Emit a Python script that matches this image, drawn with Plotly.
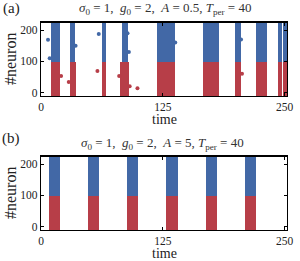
import plotly.graph_objects as go

# ---------------- data ----------------
# x-axis ticks
time_ticks = [0, 125, 250]
neuron_ticks = [0, 100, 200]

# population boundaries (neuron index)
exc_lo, boundary, inh_hi = -20, 97, 230

# Panel (a): A = 0.5  -- burst intervals (time)
a_blue_start = [10.5, 30.0, 63.0, 83.5, 119.5, 128.6, 166.0, 198.8, 221.0, 243.0, 247.9, 250.6]
a_blue_end   = [19.2, 34.8, 67.2, 89.5, 127.9, 137.2, 182.5, 204.8, 232.0, 247.3, 250.0, 253.0]
a_red_start  = [10.0, 29.5, 63.0, 81.0, 119.5, 128.6, 166.0, 198.8, 221.0, 243.0, 247.9, 250.6]
a_red_end    = [20.0, 35.7, 67.2, 90.0, 127.9, 137.2, 182.5, 205.5, 232.0, 247.3, 250.0, 253.0]

# isolated spikes in panel (a)
a_blue_iso_t = [7.2, 8.9, 59.3, 35.5, 90.2, 88.8, 205.3, 137.8]
a_blue_iso_n = [169, 110, 187, 150, 130, 190, 170, 160]
a_red_iso_t  = [28.5, 57.9, 80.2, 20.6, 91.0, 206.3, 99.0]
a_red_iso_n  = [34, 69, 53, 53, 20, 60, 14]

# Panel (b): A = 5 -- burst intervals (time)
b_start = [8.0, 48.3, 88.5, 128.8, 169.0, 209.3]
b_end   = [19.5, 59.8, 100.0, 140.3, 180.5, 220.8]

BLUE = "#4268A6"
RED = "#B73E48"
FONT = "Liberation Serif"


def bars(starts, ends, lo, hi, color, xa, ya):
    return go.Bar(
        x=[(s + e) / 2 for s, e in zip(starts, ends)],
        width=[e - s for s, e in zip(starts, ends)],
        y=[hi - lo] * len(starts),
        base=[lo] * len(starts),
        marker=dict(color=color, line=dict(width=0)),
        cliponaxis=False,
        xaxis=xa, yaxis=ya, showlegend=False, hoverinfo="skip",
    )


fig = go.Figure()
fig.add_trace(bars(a_red_start, a_red_end, exc_lo, boundary, RED, "x", "y"))
fig.add_trace(bars(a_blue_start, a_blue_end, boundary, inh_hi, BLUE, "x", "y"))
fig.add_trace(go.Scatter(x=a_blue_iso_t, y=a_blue_iso_n, mode="markers",
                         marker=dict(color=BLUE, size=4), xaxis="x", yaxis="y",
                         showlegend=False, cliponaxis=False, hoverinfo="skip"))
fig.add_trace(go.Scatter(x=a_red_iso_t, y=a_red_iso_n, mode="markers",
                         marker=dict(color=RED, size=4), xaxis="x", yaxis="y",
                         showlegend=False, cliponaxis=False, hoverinfo="skip"))
fig.add_trace(bars(b_start, b_end, exc_lo, boundary, RED, "x2", "y2"))
fig.add_trace(bars(b_start, b_end, boundary, inh_hi, BLUE, "x2", "y2"))

W, H = 300, 261
ax_common = dict(showline=True, linecolor="black", linewidth=1.3, mirror="ticks",
                 ticks="inside", ticklen=3, tickcolor="black", showgrid=False,
                 zeroline=False, automargin=False,
                 tickfont=dict(family=FONT, size=11.5, color="#222"))

fig.update_layout(
    width=W, height=H, margin=dict(l=0, r=0, t=0, b=0, autoexpand=False),
    plot_bgcolor="white", paper_bgcolor="white", barmode="overlay", bargap=0,
    xaxis=dict(domain=[41 / W, 287 / W], range=[0, 252.5], tickvals=time_ticks,
               anchor="y", **ax_common),
    yaxis=dict(domain=[1 - 96 / H, 1 - 22.5 / H], range=[-11, 224], tickvals=neuron_ticks,
               anchor="x", **ax_common),
    xaxis2=dict(domain=[41 / W, 287 / W], range=[0, 252.5], tickvals=time_ticks,
                anchor="y2", **ax_common),
    yaxis2=dict(domain=[1 - 230 / H, 1 - 156.5 / H], range=[-11, 224], tickvals=neuron_ticks,
                anchor="x2", **ax_common),
)

title_a = ("<i>σ</i><sub>0</sub> = 1,\u00a0 <i>g</i><sub>0</sub> = 2,\u00a0 "
           "<i>A</i> = 0.5, <i>T</i><sub>per</sub> = 40")
title_b = ("<i>σ</i><sub>0</sub> = 1,\u00a0 <i>g</i><sub>0</sub> = 2,\u00a0 "
           "<i>A</i> = 5, <i>T</i><sub>per</sub> = 40")


def ann(text, xpx, ypx, size, angle=0, color="#222"):
    fig.add_annotation(text=text, x=xpx / W, y=1 - ypx / H, xref="paper", yref="paper",
                       showarrow=False, xanchor="center", yanchor="middle",
                       textangle=angle, font=dict(family=FONT, size=size, color=color))


ann("(a)", 11, 8.5, 15)
ann(title_a, 165, 9, 13, color="#333")
ann("#neuron", 10, 59, 16, angle=-90)
ann("time", 164, 119.5, 14)
ann("(b)", 11, 138, 15)
ann(title_b, 162, 143, 13, color="#333")
ann("#neuron", 10, 193, 16, angle=-90)
ann("time", 164, 253, 14)

fig.write_html("out.html", config={"displayModeBar": False, "staticPlot": True},
               post_script="document.body.style.margin='0';")
